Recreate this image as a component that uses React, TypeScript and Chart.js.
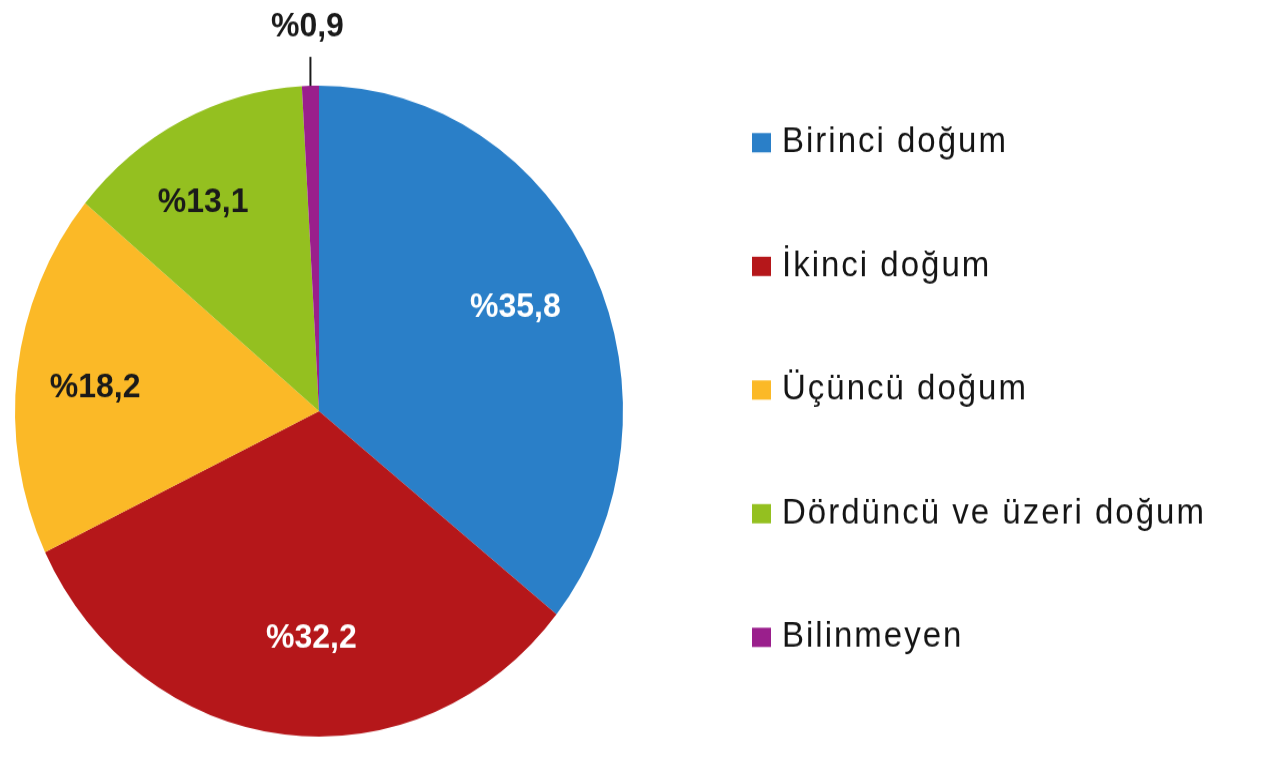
import React, { useEffect, useRef } from "react";
import { Chart, registerables } from "chart.js";

Chart.register(...registerables);

// Doğum sırasına göre dağılım (%)
const categories = [
  "Birinci doğum",
  "İkinci doğum",
  "Üçüncü doğum",
  "Dördüncü ve üzeri doğum",
  "Bilinmeyen",
];
const shares = [35.8, 32.2, 18.2, 13.1, 0.9];
const sliceColors = ["#2a7fc8", "#b5171a", "#fbb927", "#94c020", "#9a1f8c"];
const valueLabels = shares.map((v) => "%" + v.toFixed(1).replace(".", ","));

// Canvas is drawn at a reduced height and stretched vertically on screen.
const WIDTH = 1280;
const HEIGHT = 708;
const STRETCH = 758 / HEIGHT;

// Label placement: fraction of the radius and a small turn (degrees) off the mid-angle.
const labelRadius = [0.72, 0.7, 0.74, 0.745];
const labelTurn = [-0.5, -4.4, -1.5, -4];
const labelInk = ["#ffffff", "#ffffff", "#1a1a1a", "#1a1a1a", "#1a1a1a"];

const sliceLabels = {
  id: "sliceLabels",
  afterDatasetsDraw(chart: any) {
    const ctx = chart.ctx;
    const meta = chart.getDatasetMeta(0);
    ctx.save();
    ctx.font = "bold 32px 'Liberation Sans', Arial, sans-serif";
    ctx.textAlign = "center";
    ctx.textBaseline = "middle";
    meta.data.forEach((arc: any, i: number) => {
      const { x, y, startAngle, endAngle, outerRadius } = arc.getProps(
        ["x", "y", "startAngle", "endAngle", "outerRadius"],
        true
      );
      const mid = (startAngle + endAngle) / 2;
      ctx.fillStyle = labelInk[i];
      if (i < labelRadius.length) {
        const r = outerRadius * labelRadius[i];
        const a = mid + (labelTurn[i] * Math.PI) / 180;
        ctx.fillText(valueLabels[i], x + Math.cos(a) * r, y + Math.sin(a) * r);
      } else {
        // small slice: label above the pie with a leader line
        const lx = x + Math.cos(mid) * outerRadius;
        const ly = y + Math.sin(mid) * outerRadius;
        ctx.strokeStyle = "#1a1a1a";
        ctx.lineWidth = 2;
        ctx.beginPath();
        ctx.moveTo(lx, ly);
        ctx.lineTo(lx, ly - 27);
        ctx.stroke();
        ctx.fillText(valueLabels[i], lx - 3, ly - 55);
      }
    });
    ctx.restore();
  },
};

const sideLegend = {
  id: "sideLegend",
  afterDraw(chart: any) {
    const ctx = chart.ctx;
    const ds = chart.data.datasets[0];
    ctx.save();
    ctx.font = "33px 'Liberation Sans', Arial, sans-serif";
    ctx.textAlign = "left";
    ctx.textBaseline = "alphabetic";
    (ctx as any).letterSpacing = "2px";
    chart.data.labels.forEach((label: string, i: number) => {
      const baseline = 142.3 + i * 115.5;
      ctx.fillStyle = ds.backgroundColor[i];
      ctx.fillRect(752, baseline - 18, 19, 18);
      ctx.fillStyle = "#141414";
      ctx.fillText(label, 782, baseline);
    });
    ctx.restore();
  },
};

export default function App() {
  const canvasRef = useRef<HTMLCanvasElement | null>(null);

  useEffect(() => {
    if (!canvasRef.current) return;
    const chart = new Chart(canvasRef.current, {
      type: "pie",
      data: {
        labels: categories,
        datasets: [
          {
            data: shares,
            backgroundColor: sliceColors,
            borderWidth: 0,
            offset: 0,
            hoverOffset: 0,
          },
        ],
      },
      options: {
        responsive: false,
        animation: false,
        events: [],
        rotation: 0,
        layout: { padding: { left: 15, right: 657, top: 80, bottom: 20 } },
        plugins: {
          legend: { display: false },
          tooltip: { enabled: false },
        },
      },
      plugins: [sliceLabels, sideLegend],
    });
    return () => chart.destroy();
  }, []);

  return (
    <div
      style={{
        position: "absolute",
        left: 0,
        top: 0,
        width: WIDTH,
        height: 758,
        overflow: "hidden",
        background: "#ffffff",
      }}
    >
      <div style={{ transform: `scaleY(${STRETCH})`, transformOrigin: "top left" }}>
        <canvas
          ref={canvasRef}
          width={WIDTH}
          height={HEIGHT}
          style={{ display: "block", width: WIDTH, height: HEIGHT }}
        />
      </div>
    </div>
  );
}
